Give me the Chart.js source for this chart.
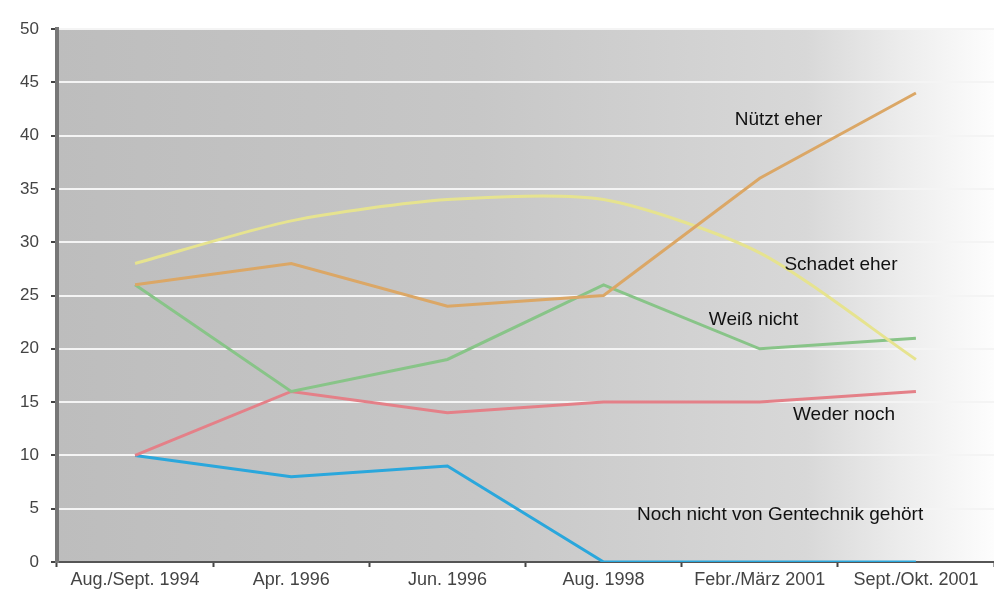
<!DOCTYPE html>
<html>
<head>
<meta charset="utf-8">
<script src="https://cdn.jsdelivr.net/npm/chart.js@4/dist/chart.umd.min.js"></script>
<style>
  html, body { margin: 0; padding: 0; background: #fff; }
  #wrap { width: 994px; height: 599px; }
</style>
</head>
<body>
<div id="wrap"><canvas id="chart"></canvas></div>
<script>
// survey waves
const waves = ['Aug./Sept. 1994', 'Apr. 1996', 'Jun. 1996', 'Aug. 1998', 'Febr./März 2001', 'Sept./Okt. 2001'];

// answers in percent
const nuetztEher = [26, 28, 24, 25, 36, 44];
const schadetEher = [28, 32, 34, 34, 29, 19];
const weissNicht = [26, 16, 19, 26, 20, 21];
const wederNoch = [10, 16, 14, 15, 15, 16];
const nochNicht = [10, 8, 9, 0, 0, 0];

const yTicks = [0, 5, 10, 15, 20, 25, 30, 35, 40, 45, 50];

const seriesNames = ['Nützt eher', 'Schadet eher', 'Weiß nicht', 'Weder noch', 'Noch nicht von Gentechnik gehört'];

// where the in-chart labels sit (category index, value)
const labelSpots = [
    { x: 4.12, y: 41.5 },
    { x: 4.52, y: 27.9 },
    { x: 3.96, y: 22.7 },
    { x: 4.54, y: 13.8 },
    { x: 4.13, y: 4.4 }
];

const bgPlugin = {
    id: 'bgPlugin',
    beforeDraw(chart) {
        const { ctx, chartArea: a } = chart;
        const g = ctx.createLinearGradient(a.left, 0, a.right, 0);
        g.addColorStop(0, '#bdbdbd');
        g.addColorStop(0.45, '#c7c7c7');
        g.addColorStop(0.8, '#d8d8d8');
        g.addColorStop(0.9, '#ececec');
        g.addColorStop(1, '#fdfdfd');
        ctx.save();
        ctx.fillStyle = g;
        ctx.fillRect(a.left, a.top, a.right - a.left, a.bottom - a.top);
        ctx.restore();
    }
};

const labelPlugin = {
    id: 'labelPlugin',
    afterDatasetsDraw(chart) {
        const { ctx, scales } = chart;
        ctx.save();
        ctx.font = '19px "Liberation Sans", Arial, sans-serif';
        ctx.fillStyle = '#111';
        ctx.textAlign = 'center';
        ctx.textBaseline = 'middle';
        seriesNames.forEach((name, i) => {
            const p = labelSpots[i];
            ctx.fillText(name, scales.x.getPixelForValue(p.x), scales.y.getPixelForValue(p.y));
        });
        ctx.restore();
    }
};

function line(data, color, tension) {
    return {
        data: data,
        borderColor: color,
        borderWidth: 3,
        pointRadius: 0,
        fill: false,
        tension: tension || 0
    };
}

new Chart(document.getElementById('chart'), {
    type: 'line',
    data: {
        labels: waves,
        datasets: [
            line(nuetztEher, '#dba766'),
            line(schadetEher, '#e6e38f', 0.25),
            line(weissNicht, '#88c488'),
            line(wederNoch, '#e48088'),
            line(nochNicht, '#2aa7dc')
        ]
    },
    options: {
        responsive: true,
        maintainAspectRatio: false,
        animation: false,
        layout: { padding: { top: 29, right: 0, left: 0, bottom: 0 } },
        plugins: {
            legend: { display: false },
            tooltip: { enabled: false }
        },
        scales: {
            x: {
                offset: true,
                grid: {
                    offset: true,
                    drawOnChartArea: false,
                    drawTicks: true,
                    tickLength: 5,
                    tickColor: '#444',
                    tickWidth: 2
                },
                border: { color: '#555', width: 2 },
                ticks: {
                    color: '#444',
                    font: { family: '"Liberation Sans", sans-serif', size: 18 },
                    padding: 2,
                    maxRotation: 0,
                    autoSkip: false
                },
                afterFit(scale) { scale.height = 37; }
            },
            y: {
                min: 0,
                max: 50,
                afterBuildTicks(scale) { scale.ticks = yTicks.map(v => ({ value: v })); },
                grid: {
                    color: '#f4f4f4',
                    lineWidth: 2,
                    tickLength: 6,
                    tickColor: '#444',
                    tickWidth: 2
                },
                border: { color: '#777', width: 4 },
                ticks: {
                    color: '#444',
                    font: { family: '"Liberation Sans", sans-serif', size: 17 },
                    padding: 12
                },
                afterFit(scale) { scale.width = 57; }
            }
        }
    },
    plugins: [bgPlugin, labelPlugin]
});
</script>
</body>
</html>
